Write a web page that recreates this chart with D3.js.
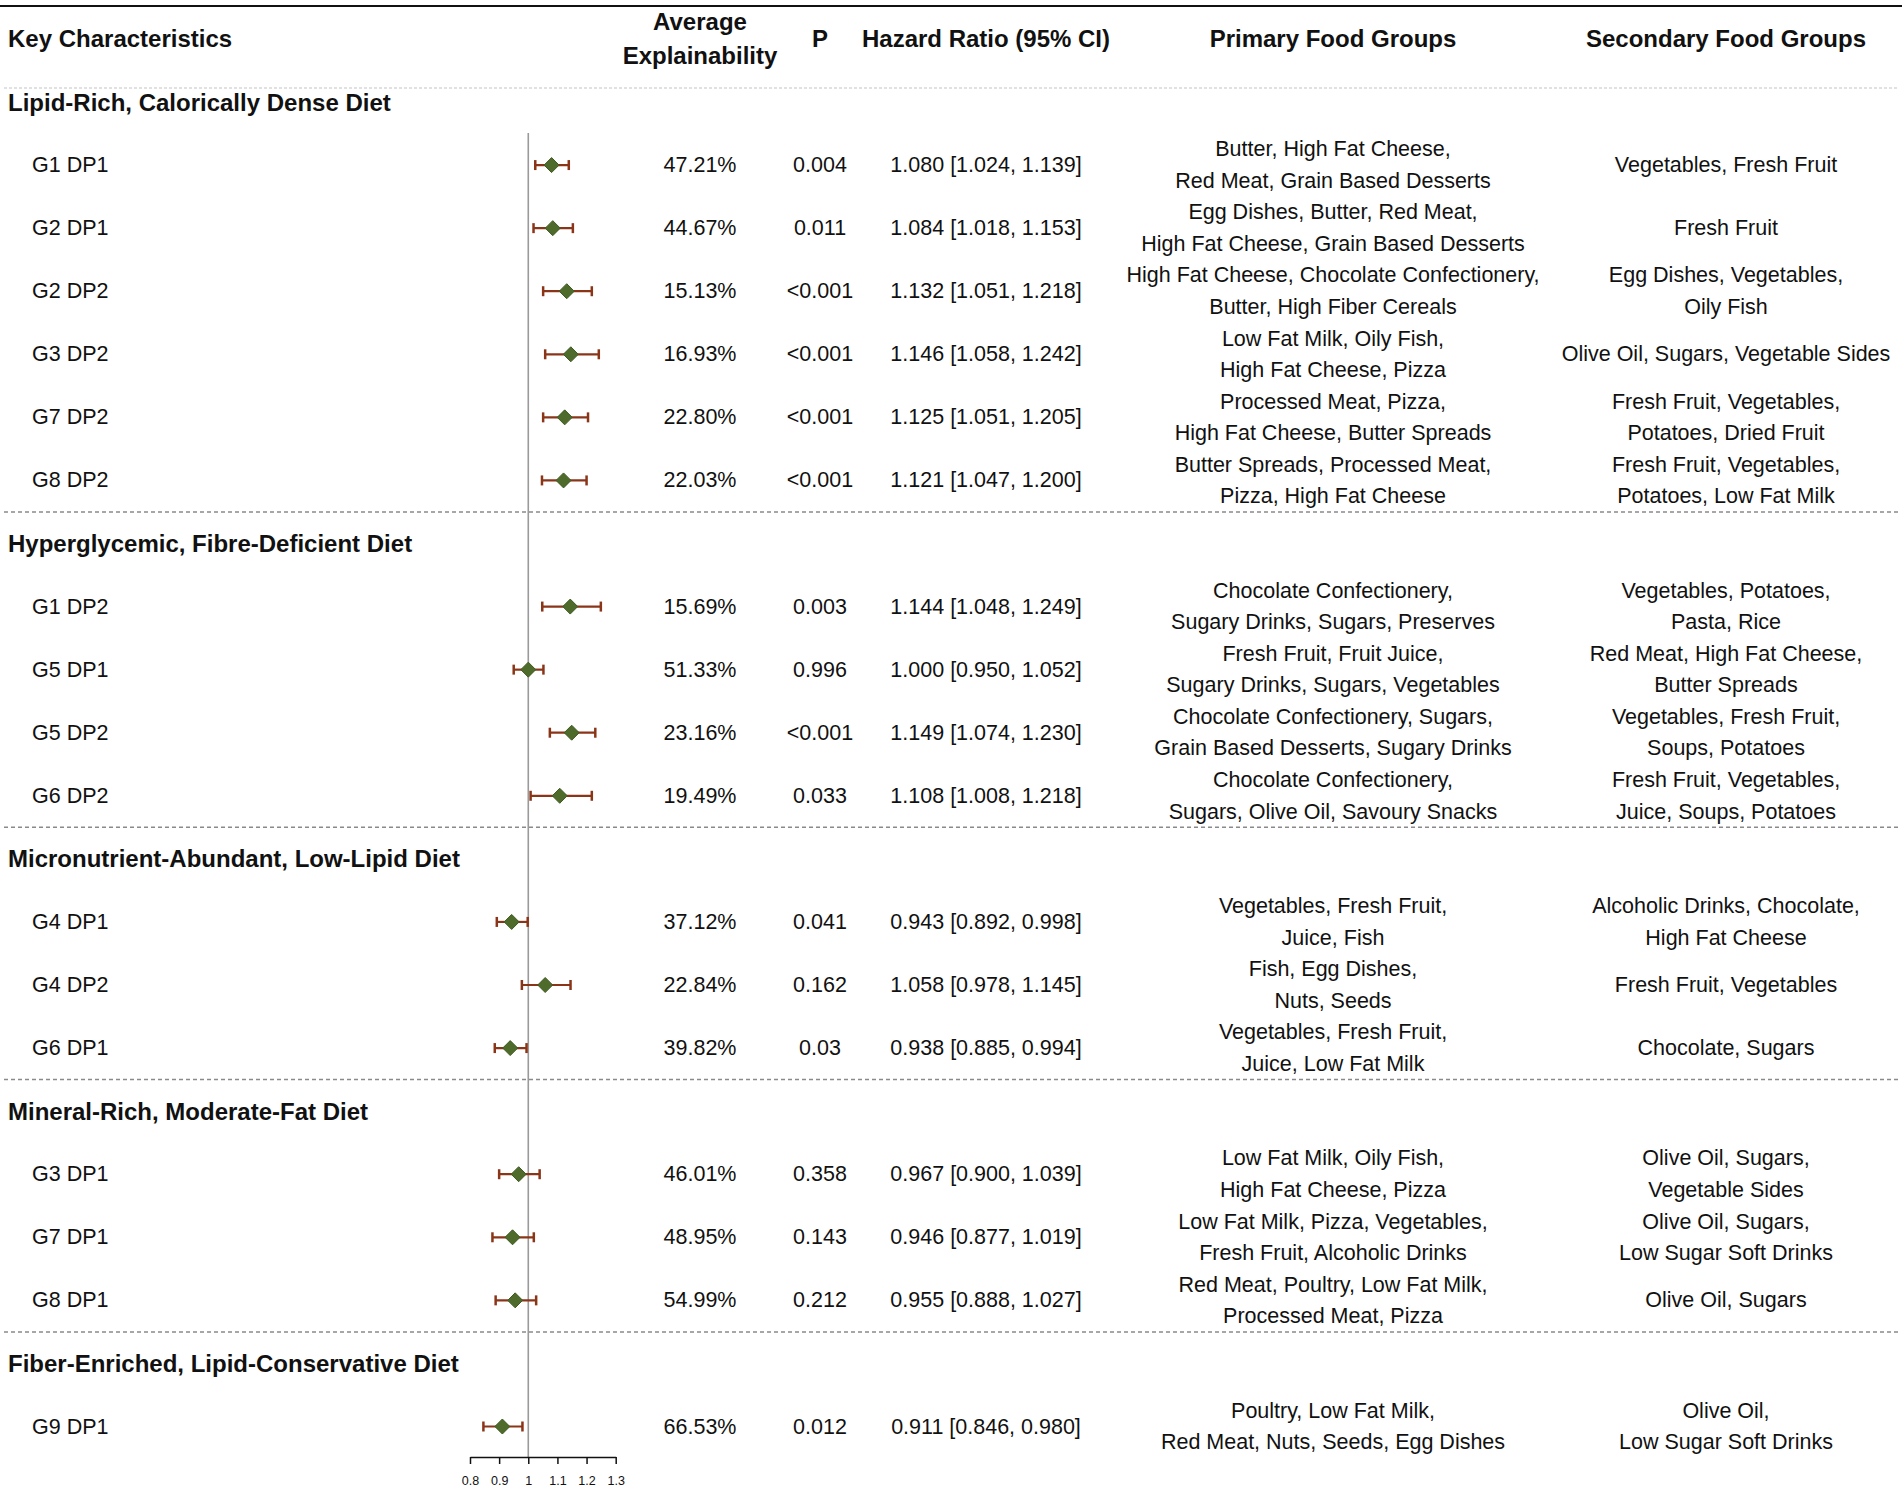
<!DOCTYPE html>
<html>
<head>
<meta charset="utf-8">
<script src="https://cdn.jsdelivr.net/npm/d3@7"></script>
<style>
  html, body { margin: 0; padding: 0; background: #fff; }
  svg { display: block; font-family: "Liberation Sans", Arial, Helvetica, sans-serif; }
</style>
</head>
<body>
<svg id="chart" width="1902" height="1491"></svg>
<script>
// ---------------- DATA ----------------
const groupTitles = [
  "Lipid-Rich, Calorically Dense Diet",
  "Hyperglycemic, Fibre-Deficient Diet",
  "Micronutrient-Abundant, Low-Lipid Diet",
  "Mineral-Rich, Moderate-Fat Diet",
  "Fiber-Enriched, Lipid-Conservative Diet"
];
const rowLabels = ["G1 DP1","G2 DP1","G2 DP2","G3 DP2","G7 DP2","G8 DP2",
                   "G1 DP2","G5 DP1","G5 DP2","G6 DP2",
                   "G4 DP1","G4 DP2","G6 DP1",
                   "G3 DP1","G7 DP1","G8 DP1",
                   "G9 DP1"];
const rowGroup = [0,0,0,0,0,0, 1,1,1,1, 2,2,2, 3,3,3, 4];
const explainability = ["47.21%","44.67%","15.13%","16.93%","22.80%","22.03%",
                        "15.69%","51.33%","23.16%","19.49%",
                        "37.12%","22.84%","39.82%",
                        "46.01%","48.95%","54.99%",
                        "66.53%"];
const pValues = ["0.004","0.011","<0.001","<0.001","<0.001","<0.001",
                 "0.003","0.996","<0.001","0.033",
                 "0.041","0.162","0.03",
                 "0.358","0.143","0.212",
                 "0.012"];
const hazardRatio = [1.080,1.084,1.132,1.146,1.125,1.121, 1.144,1.000,1.149,1.108, 0.943,1.058,0.938, 0.967,0.946,0.955, 0.911];
const ciLower     = [1.024,1.018,1.051,1.058,1.051,1.047, 1.048,0.950,1.074,1.008, 0.892,0.978,0.885, 0.900,0.877,0.888, 0.846];
const ciUpper     = [1.139,1.153,1.218,1.242,1.205,1.200, 1.249,1.052,1.230,1.218, 0.998,1.145,0.994, 1.039,1.019,1.027, 0.980];
const primaryFood = [
  ["Butter, High Fat Cheese,","Red Meat, Grain Based Desserts"],
  ["Egg Dishes, Butter, Red Meat,","High Fat Cheese, Grain Based Desserts"],
  ["High Fat Cheese, Chocolate Confectionery,","Butter, High Fiber Cereals"],
  ["Low Fat Milk, Oily Fish,","High Fat Cheese, Pizza"],
  ["Processed Meat, Pizza,","High Fat Cheese, Butter Spreads"],
  ["Butter Spreads, Processed Meat,","Pizza, High Fat Cheese"],
  ["Chocolate Confectionery,","Sugary Drinks, Sugars, Preserves"],
  ["Fresh Fruit, Fruit Juice,","Sugary Drinks, Sugars, Vegetables"],
  ["Chocolate Confectionery, Sugars,","Grain Based Desserts, Sugary Drinks"],
  ["Chocolate Confectionery,","Sugars, Olive Oil, Savoury Snacks"],
  ["Vegetables, Fresh Fruit,","Juice, Fish"],
  ["Fish, Egg Dishes,","Nuts, Seeds"],
  ["Vegetables, Fresh Fruit,","Juice, Low Fat Milk"],
  ["Low Fat Milk, Oily Fish,","High Fat Cheese, Pizza"],
  ["Low Fat Milk, Pizza, Vegetables,","Fresh Fruit, Alcoholic Drinks"],
  ["Red Meat, Poultry, Low Fat Milk,","Processed Meat, Pizza"],
  ["Poultry, Low Fat Milk,","Red Meat, Nuts, Seeds, Egg Dishes"]
];
const secondaryFood = [
  ["Vegetables, Fresh Fruit"],
  ["Fresh Fruit"],
  ["Egg Dishes, Vegetables,","Oily Fish"],
  ["Olive Oil, Sugars, Vegetable Sides"],
  ["Fresh Fruit, Vegetables,","Potatoes, Dried Fruit"],
  ["Fresh Fruit, Vegetables,","Potatoes, Low Fat Milk"],
  ["Vegetables, Potatoes,","Pasta, Rice"],
  ["Red Meat, High Fat Cheese,","Butter Spreads"],
  ["Vegetables, Fresh Fruit,","Soups, Potatoes"],
  ["Fresh Fruit, Vegetables,","Juice, Soups, Potatoes"],
  ["Alcoholic Drinks, Chocolate,","High Fat Cheese"],
  ["Fresh Fruit, Vegetables"],
  ["Chocolate, Sugars"],
  ["Olive Oil, Sugars,","Vegetable Sides"],
  ["Olive Oil, Sugars,","Low Sugar Soft Drinks"],
  ["Olive Oil, Sugars"],
  ["Olive Oil,","Low Sugar Soft Drinks"]
];
const axisTicks = [0.8, 0.9, 1.0, 1.1, 1.2, 1.3];
const tickLabels = ["0.8","0.9","1","1.1","1.2","1.3"];
const headers = [
  {lines:["Key Characteristics"], col:"label"},
  {lines:["Average","Explainability"], col:"explain"},
  {lines:["P"], col:"p"},
  {lines:["Hazard Ratio (95% CI)"], col:"hr"},
  {lines:["Primary Food Groups"], col:"primary"},
  {lines:["Secondary Food Groups"], col:"secondary"}
];

// ---------------- LAYOUT ----------------
const W = 1902, H = 1491;
const svg = d3.select("#chart");
const colX = {label: 8, row: 32, explain: 700, p: 820, hr: 986, primary: 1333, secondary: 1726};
const bodyFont = 21.5, boldFont = 24;

let s = 0;
const groupSlot = [], rowSlot = [], dashSlot = [];
groupTitles.forEach((g, gi) => {
  if (gi > 0) dashSlot.push(s - 0.5);
  groupSlot.push(s); s++;
  rowLabels.forEach((r, ri) => { if (rowGroup[ri] === gi) { rowSlot[ri] = s; s++; } });
});
const ySlot = d3.scaleLinear().domain([0, 21]).range([102, 1426.5]);
const x = d3.scaleLinear().domain([0.8, 1.3]).range([470, 615.7]);
const axisY = 1457;

// top rule
svg.append("line").attr("x1", 0).attr("x2", W).attr("y1", 6).attr("y2", 6)
  .attr("stroke", "#111").attr("stroke-width", 2.2);
// header dashed rule (faint)
svg.append("line").attr("x1", 4).attr("x2", W - 4).attr("y1", 88).attr("y2", 88)
  .attr("stroke", "#c4c4c4").attr("stroke-width", 1.2).attr("stroke-dasharray", "3,2");

// headers
const hdrY = 38.8, hdrGap = 34;
headers.forEach(h => {
  const anchor = h.col === "label" ? "start" : "middle";
  const n = h.lines.length;
  h.lines.forEach((ln, i) => {
    svg.append("text")
      .attr("x", colX[h.col])
      .attr("y", hdrY + (i - (n - 1) / 2) * hdrGap)
      .attr("text-anchor", anchor)
      .attr("dominant-baseline", "central")
      .attr("font-weight", "bold")
      .attr("font-size", boldFont)
      .attr("fill", "#111")
      .text(ln);
  });
});

// group dashed separators
svg.selectAll("line.sep").data(dashSlot).enter().append("line")
  .attr("class", "sep")
  .attr("x1", 4).attr("x2", W - 4)
  .attr("y1", d => ySlot(d)).attr("y2", d => ySlot(d))
  .attr("stroke", "#8a8a8a").attr("stroke-width", 1.5).attr("stroke-dasharray", "4,3");

// group titles
svg.selectAll("text.group").data(groupTitles).enter().append("text")
  .attr("class", "group")
  .attr("x", colX.label)
  .attr("y", (d, i) => ySlot(groupSlot[i]))
  .attr("dominant-baseline", "central")
  .attr("font-weight", "bold")
  .attr("font-size", boldFont)
  .attr("fill", "#111")
  .text(d => d);

// reference line at HR = 1
svg.append("line")
  .attr("x1", x(1)).attr("x2", x(1))
  .attr("y1", 133).attr("y2", axisY)
  .attr("stroke", "#9a9a9a").attr("stroke-width", 1.6);

// rows
const rows = svg.selectAll("g.row").data(rowLabels).enter().append("g")
  .attr("class", "row")
  .attr("transform", (d, i) => `translate(0,${ySlot(rowSlot[i])})`);

function addText(sel, xPos, anchor, getter) {
  sel.append("text")
    .attr("x", xPos)
    .attr("y", 0)
    .attr("text-anchor", anchor)
    .attr("dominant-baseline", "central")
    .attr("font-size", bodyFont)
    .attr("fill", "#111")
    .text(getter);
}
addText(rows, colX.row, "start", d => d);
addText(rows, colX.explain, "middle", (d, i) => explainability[i]);
addText(rows, colX.p, "middle", (d, i) => pValues[i]);
addText(rows, colX.hr, "middle", (d, i) =>
  `${hazardRatio[i].toFixed(3)} [${ciLower[i].toFixed(3)}, ${ciUpper[i].toFixed(3)}]`);

const lineGap = 31.5;
function addMulti(sel, xPos, arr) {
  sel.each(function(d, i) {
    const lines = arr[i];
    const n = lines.length;
    d3.select(this).selectAll(null).data(lines).enter().append("text")
      .attr("x", xPos)
      .attr("y", (ln, j) => (j - (n - 1) / 2) * lineGap)
      .attr("text-anchor", "middle")
      .attr("dominant-baseline", "central")
      .attr("font-size", bodyFont)
      .attr("fill", "#111")
      .text(ln => ln);
  });
}
addMulti(rows, colX.primary, primaryFood);
addMulti(rows, colX.secondary, secondaryFood);

// forest marks
const ciColor = "#8a3518";
const capH = 5;
rows.append("line")
  .attr("x1", (d, i) => x(ciLower[i])).attr("x2", (d, i) => x(ciUpper[i]))
  .attr("y1", 0).attr("y2", 0)
  .attr("stroke", ciColor).attr("stroke-width", 2.2);
rows.append("line")
  .attr("x1", (d, i) => x(ciLower[i])).attr("x2", (d, i) => x(ciLower[i]))
  .attr("y1", -capH).attr("y2", capH)
  .attr("stroke", ciColor).attr("stroke-width", 2.5);
rows.append("line")
  .attr("x1", (d, i) => x(ciUpper[i])).attr("x2", (d, i) => x(ciUpper[i]))
  .attr("y1", -capH).attr("y2", capH)
  .attr("stroke", ciColor).attr("stroke-width", 2.5);
const dHalf = 7.5;
rows.append("path")
  .attr("d", (d, i) => {
    const cx = x(hazardRatio[i]);
    return `M${cx - dHalf},0L${cx},${-dHalf}L${cx + dHalf},0L${cx},${dHalf}Z`;
  })
  .attr("fill", "#4f6b2b")
  .attr("stroke", "#3f5a22")
  .attr("stroke-width", 1);

// x axis
const axis = d3.axisBottom(x)
  .tickValues(axisTicks)
  .tickFormat((d, i) => tickLabels[i])
  .tickSize(7)
  .tickSizeOuter(0);
const ax = svg.append("g").attr("transform", `translate(0,${axisY})`).call(axis);
ax.select(".domain").attr("stroke", "#111").attr("stroke-width", 1.5);
ax.selectAll(".tick line").attr("stroke", "#111").attr("stroke-width", 1.5);
ax.selectAll(".tick text")
  .attr("font-family", "\"Liberation Sans\", Arial, sans-serif")
  .attr("font-size", 12.5)
  .attr("fill", "#111")
  .attr("y", 24)
  .attr("dy", "0.35em");
</script>
</body>
</html>
